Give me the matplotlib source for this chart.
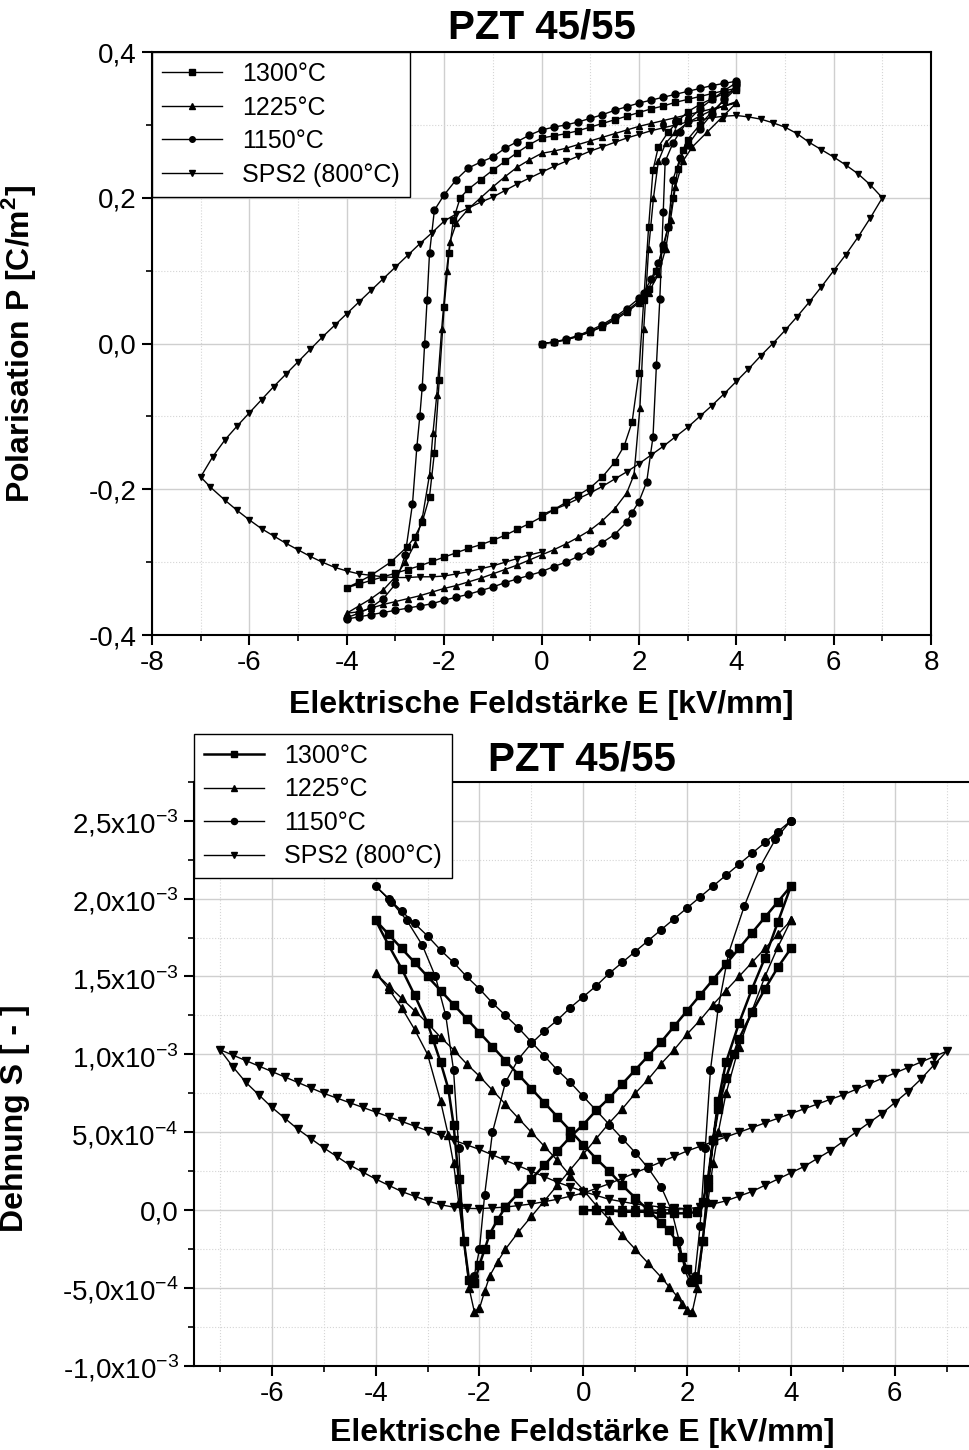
import numpy as np
import matplotlib.pyplot as plt
from matplotlib.ticker import MultipleLocator, FuncFormatter

plt.rcParams['font.family'] = ['Liberation Sans', 'DejaVu Sans']
plt.rcParams['mathtext.fontset'] = 'custom'
plt.rcParams['mathtext.rm'] = 'Liberation Sans'
plt.rcParams['mathtext.bf'] = 'Liberation Sans:bold'
plt.rcParams['axes.unicode_minus'] = False

labels = ['1300°C', '1225°C', '1150°C', 'SPS2 (800°C)']
markers = ['s', '^', 'o', 'v']

# P(E) Hysterese, Punkte (E [kV/mm], P [C/m^2])
pol_1300 = [
    (0, 0), (0.25, 0.002), (0.5, 0.005), (0.75, 0.01), (1, 0.016), (1.25, 0.024), (1.5, 0.034),
    (1.75, 0.045), (2, 0.058), (2.2, 0.075), (2.35, 0.1), (2.5, 0.13), (2.6, 0.16), (2.7, 0.2),
    (2.8, 0.24), (2.9, 0.265), (3, 0.28), (3.25, 0.3), (3.5, 0.318), (3.75, 0.334), (4, 0.35),
    (3.75, 0.347), (3.5, 0.343), (3.25, 0.339), (3, 0.335), (2.75, 0.331), (2.5, 0.326), (2.25, 0.322),
    (2, 0.317), (1.75, 0.312), (1.5, 0.307), (1.25, 0.302), (1, 0.297), (0.75, 0.292), (0.5, 0.288),
    (0.25, 0.285), (0, 0.282), (-0.25, 0.273), (-0.5, 0.262), (-0.75, 0.25), (-1, 0.238), (-1.25, 0.225),
    (-1.5, 0.212), (-1.67, 0.2), (-1.81, 0.17), (-1.9, 0.124), (-2.0, 0.05), (-2.1, -0.05), (-2.2, -0.15),
    (-2.3, -0.21), (-2.45, -0.245), (-2.6, -0.265), (-2.76, -0.279), (-3.1, -0.3), (-3.5, -0.318),
    (-3.75, -0.327), (-4, -0.335),
    (-3.75, -0.33), (-3.5, -0.325), (-3.25, -0.32), (-3, -0.315), (-2.75, -0.31), (-2.5, -0.305),
    (-2.25, -0.299), (-2, -0.293), (-1.75, -0.287), (-1.5, -0.281), (-1.25, -0.276), (-1, -0.27),
    (-0.75, -0.263), (-0.5, -0.255), (-0.25, -0.247), (0, -0.238), (0.25, -0.228), (0.5, -0.218),
    (0.75, -0.208), (1, -0.198), (1.25, -0.183), (1.5, -0.163), (1.7, -0.14), (1.86, -0.108),
    (2.0, -0.04), (2.1, 0.06), (2.2, 0.16), (2.29, 0.238), (2.4, 0.27), (2.6, 0.29), (2.8, 0.305),
    (3, 0.318), (3.25, 0.328), (3.5, 0.336), (3.75, 0.343), (4, 0.348),
]
pol_1225 = [
    (0, 0), (0.25, 0.002), (0.5, 0.005), (0.75, 0.01), (1, 0.016), (1.25, 0.023), (1.5, 0.032),
    (1.75, 0.043), (2, 0.056), (2.2, 0.07), (2.4, 0.095), (2.55, 0.13), (2.65, 0.17), (2.75, 0.215),
    (2.9, 0.25), (3.1, 0.27), (3.4, 0.29), (3.7, 0.31), (4, 0.33),
    (3.75, 0.326), (3.5, 0.322), (3.25, 0.318), (3, 0.314), (2.75, 0.31), (2.5, 0.306), (2.25, 0.302),
    (2, 0.298), (1.75, 0.293), (1.5, 0.288), (1.25, 0.283), (1, 0.278), (0.75, 0.273), (0.5, 0.268),
    (0.25, 0.264), (0, 0.261), (-0.25, 0.252), (-0.5, 0.242), (-0.75, 0.229), (-1, 0.215), (-1.25, 0.2),
    (-1.5, 0.185), (-1.75, 0.165), (-1.88, 0.14), (-1.95, 0.1), (-2.05, 0.02), (-2.15, -0.07),
    (-2.23, -0.123), (-2.3, -0.18), (-2.45, -0.24), (-2.6, -0.275), (-2.8, -0.3), (-3, -0.32),
    (-3.25, -0.338), (-3.5, -0.35), (-3.75, -0.36), (-4, -0.37),
    (-3.75, -0.368), (-3.5, -0.363), (-3.25, -0.358), (-3, -0.354), (-2.75, -0.35), (-2.5, -0.346),
    (-2.25, -0.341), (-2, -0.336), (-1.75, -0.332), (-1.5, -0.327), (-1.25, -0.322), (-1, -0.316),
    (-0.75, -0.31), (-0.5, -0.304), (-0.25, -0.297), (0, -0.29), (0.25, -0.283), (0.5, -0.275),
    (0.75, -0.266), (1, -0.256), (1.25, -0.243), (1.5, -0.227), (1.75, -0.205), (1.9, -0.18),
    (2.02, -0.089), (2.1, 0.02), (2.2, 0.13), (2.3, 0.2), (2.4, 0.25), (2.55, 0.275), (2.75, 0.29),
    (3, 0.303), (3.25, 0.312), (3.5, 0.32), (3.75, 0.326), (4, 0.332),
]
pol_1150 = [
    (0, 0), (0.25, 0.002), (0.5, 0.006), (0.75, 0.011), (1, 0.018), (1.25, 0.026), (1.5, 0.036),
    (1.75, 0.048), (2, 0.062), (2.1, 0.07), (2.25, 0.088), (2.4, 0.11), (2.5, 0.135), (2.6, 0.16),
    (2.7, 0.225), (2.85, 0.255), (3, 0.272), (3.25, 0.295), (3.5, 0.315), (3.75, 0.335), (4, 0.355),
    (4, 0.36), (3.75, 0.357), (3.5, 0.354), (3.25, 0.35), (3, 0.346), (2.75, 0.342), (2.5, 0.338),
    (2.25, 0.334), (2, 0.33), (1.75, 0.325), (1.5, 0.32), (1.25, 0.314), (1, 0.309), (0.75, 0.304),
    (0.5, 0.3), (0.25, 0.297), (0, 0.293), (-0.25, 0.286), (-0.5, 0.277), (-0.75, 0.268), (-1, 0.256),
    (-1.25, 0.249), (-1.5, 0.241), (-1.75, 0.225), (-2, 0.204), (-2.2, 0.183), (-2.3, 0.124),
    (-2.35, 0.06), (-2.4, 0.0), (-2.45, -0.06), (-2.5, -0.1), (-2.56, -0.142), (-2.65, -0.22),
    (-2.8, -0.29), (-3, -0.33), (-3.25, -0.35), (-3.5, -0.362), (-3.75, -0.37), (-4, -0.376),
    (-4, -0.378), (-3.75, -0.375), (-3.5, -0.372), (-3.25, -0.369), (-3, -0.366), (-2.75, -0.363),
    (-2.5, -0.36), (-2.25, -0.357), (-2, -0.352), (-1.75, -0.348), (-1.5, -0.344), (-1.25, -0.339),
    (-1, -0.334), (-0.75, -0.328), (-0.5, -0.323), (-0.25, -0.318), (0, -0.313), (0.25, -0.306),
    (0.5, -0.3), (0.75, -0.292), (1, -0.284), (1.25, -0.273), (1.5, -0.262), (1.75, -0.245),
    (1.85, -0.233), (2, -0.217), (2.16, -0.19), (2.29, -0.128), (2.36, -0.03), (2.43, 0.061),
    (2.5, 0.18), (2.54, 0.25), (2.7, 0.275), (2.84, 0.29), (3, 0.305), (3.25, 0.322), (3.5, 0.335),
    (3.75, 0.347), (4, 0.358),
]
pol_sps2 = [
    (0, -0.235), (0.25, -0.228), (0.5, -0.221), (0.75, -0.213), (1, -0.205), (1.25, -0.196),
    (1.5, -0.186), (1.75, -0.176), (2, -0.165), (2.25, -0.153), (2.5, -0.141), (2.75, -0.128),
    (3, -0.115), (3.25, -0.1), (3.5, -0.085), (3.75, -0.069), (4, -0.052), (4.25, -0.035),
    (4.5, -0.017), (4.75, 0.0), (5, 0.018), (5.25, 0.037), (5.5, 0.057), (5.75, 0.078), (6, 0.1),
    (6.25, 0.122), (6.5, 0.146), (6.75, 0.172), (7, 0.2),
    (6.75, 0.218), (6.5, 0.233), (6.25, 0.245), (6, 0.256), (5.75, 0.266), (5.5, 0.276), (5.25, 0.288),
    (5, 0.297), (4.75, 0.303), (4.5, 0.308), (4.25, 0.311), (4, 0.313), (3.75, 0.312), (3.5, 0.31),
    (3.25, 0.307), (3, 0.304), (2.75, 0.3), (2.5, 0.296), (2.25, 0.292), (2, 0.287), (1.75, 0.282),
    (1.5, 0.276), (1.25, 0.27), (1, 0.264), (0.75, 0.257), (0.5, 0.25), (0.25, 0.243), (0, 0.235),
    (-0.25, 0.227), (-0.5, 0.219), (-0.75, 0.21), (-1, 0.201), (-1.25, 0.194), (-1.5, 0.186),
    (-1.75, 0.178), (-2, 0.168), (-2.25, 0.152), (-2.5, 0.137), (-2.75, 0.121), (-3, 0.105),
    (-3.25, 0.089), (-3.5, 0.073), (-3.75, 0.057), (-4, 0.041), (-4.25, 0.025), (-4.5, 0.009),
    (-4.75, -0.008), (-5, -0.025), (-5.25, -0.042), (-5.5, -0.059), (-5.75, -0.077), (-6, -0.095),
    (-6.25, -0.113), (-6.5, -0.132), (-6.75, -0.155), (-7, -0.183),
    (-6.8, -0.197), (-6.5, -0.215), (-6.25, -0.229), (-6, -0.242), (-5.75, -0.254), (-5.5, -0.264),
    (-5.25, -0.274), (-5, -0.283), (-4.75, -0.292), (-4.5, -0.3), (-4.25, -0.307), (-4, -0.312),
    (-3.75, -0.316), (-3.5, -0.318), (-3.25, -0.32), (-3, -0.321), (-2.75, -0.321), (-2.5, -0.32),
    (-2.25, -0.32), (-2, -0.319), (-1.75, -0.316), (-1.5, -0.313), (-1.25, -0.309), (-1, -0.305),
    (-0.75, -0.3), (-0.5, -0.295), (-0.25, -0.29), (0, -0.286),
]

# S(E) Schmetterlingskurven, Punkte (E [kV/mm], S [1e-3])
str_1300 = [
    (0, 0), (0.25, 0), (0.5, 0), (0.75, -0.01), (1, -0.01), (1.25, -0.01), (1.5, -0.02), (1.75, -0.02),
    (2, -0.02), (2.2, -0.01), (2.3, 0.05), (2.4, 0.2), (2.5, 0.45), (2.6, 0.7), (2.75, 0.95), (3, 1.2),
    (3.25, 1.42), (3.5, 1.62), (3.75, 1.85), (4, 2.08),
    (3.75, 1.98), (3.5, 1.88), (3.25, 1.78), (3, 1.68), (2.75, 1.58), (2.5, 1.48), (2.25, 1.38),
    (2, 1.28), (1.75, 1.18), (1.5, 1.08), (1.25, 0.99), (1, 0.9), (0.75, 0.81), (0.5, 0.72),
    (0.25, 0.64), (0, 0.55), (-0.25, 0.47), (-0.5, 0.38), (-0.75, 0.29), (-1, 0.2), (-1.25, 0.11),
    (-1.5, 0.02), (-1.65, -0.06), (-1.8, -0.15), (-1.9, -0.25), (-2, -0.35), (-2.1, -0.47),
    (-2.2, -0.45), (-2.3, -0.2), (-2.4, 0.2), (-2.5, 0.55), (-2.6, 0.78), (-2.75, 0.95), (-2.9, 1.1),
    (-3, 1.2), (-3.25, 1.38), (-3.5, 1.55), (-3.75, 1.7), (-4, 1.86),
    (-3.75, 1.77), (-3.5, 1.68), (-3.25, 1.59), (-3, 1.5), (-2.75, 1.41), (-2.5, 1.32), (-2.25, 1.23),
    (-2, 1.14), (-1.75, 1.05), (-1.5, 0.96), (-1.25, 0.87), (-1, 0.78), (-0.75, 0.69), (-0.5, 0.6),
    (-0.25, 0.51), (0, 0.42), (0.25, 0.33), (0.5, 0.25), (0.75, 0.16), (1, 0.08), (1.25, 0.0),
    (1.5, -0.08), (1.65, -0.13), (1.8, -0.2), (1.9, -0.3), (2, -0.38), (2.1, -0.46), (2.2, -0.44),
    (2.3, -0.2), (2.4, 0.15), (2.5, 0.45), (2.6, 0.65), (2.75, 0.85), (2.9, 1.0), (3, 1.1),
    (3.25, 1.27), (3.5, 1.42), (3.75, 1.56), (4, 1.68),
]
str_1225 = [
    (4, 1.86), (3.75, 1.77), (3.5, 1.68), (3.25, 1.59), (3, 1.5), (2.75, 1.41), (2.5, 1.32), (2.25, 1.22),
    (2, 1.13), (1.75, 1.03), (1.5, 0.94), (1.25, 0.84), (1, 0.75), (0.75, 0.65), (0.5, 0.56), (0.25, 0.46),
    (0, 0.36), (-0.25, 0.26), (-0.5, 0.16), (-0.75, 0.06), (-1, -0.04), (-1.25, -0.14), (-1.5, -0.25),
    (-1.65, -0.33), (-1.8, -0.42), (-1.9, -0.52), (-2, -0.63), (-2.1, -0.65), (-2.2, -0.5), (-2.3, -0.2),
    (-2.4, 0.05), (-2.5, 0.3), (-2.6, 0.48), (-2.75, 0.7), (-3, 1.0), (-3.25, 1.16), (-3.5, 1.3),
    (-3.75, 1.42), (-4, 1.52),
    (-3.75, 1.44), (-3.5, 1.36), (-3.25, 1.28), (-3, 1.2), (-2.75, 1.11), (-2.5, 1.03), (-2.25, 0.94),
    (-2, 0.86), (-1.75, 0.77), (-1.5, 0.68), (-1.25, 0.59), (-1, 0.5), (-0.75, 0.41), (-0.5, 0.32),
    (-0.25, 0.22), (0, 0.13), (0.25, 0.03), (0.5, -0.06), (0.75, -0.16), (1, -0.25), (1.25, -0.34),
    (1.5, -0.43), (1.65, -0.49), (1.8, -0.55), (1.9, -0.6), (2, -0.64), (2.1, -0.65), (2.2, -0.5),
    (2.3, -0.2), (2.4, 0.05), (2.5, 0.3), (2.6, 0.5), (2.75, 0.75), (3, 1.05), (3.25, 1.28),
    (3.5, 1.5), (3.75, 1.69), (4, 1.86),
]
str_1150 = [
    (4, 2.5), (3.75, 2.43), (3.5, 2.36), (3.25, 2.29), (3, 2.22), (2.75, 2.15), (2.5, 2.08), (2.25, 2.01),
    (2, 1.94), (1.75, 1.87), (1.5, 1.8), (1.25, 1.73), (1, 1.66), (0.75, 1.59), (0.5, 1.52), (0.25, 1.44),
    (0, 1.37), (-0.25, 1.3), (-0.5, 1.22), (-0.75, 1.15), (-1, 1.07), (-1.25, 0.97), (-1.5, 0.82),
    (-1.75, 0.5), (-1.9, 0.1), (-2, -0.25), (-2.1, -0.42), (-2.2, -0.45), (-2.3, -0.2), (-2.4, 0.4),
    (-2.5, 0.9), (-2.65, 1.25), (-2.85, 1.5), (-3.1, 1.7), (-3.4, 1.86), (-3.7, 1.98), (-4, 2.08),
    (-3.75, 2.0), (-3.5, 1.92), (-3.25, 1.84), (-3, 1.76), (-2.75, 1.67), (-2.5, 1.59), (-2.25, 1.5),
    (-2, 1.42), (-1.75, 1.33), (-1.5, 1.25), (-1.25, 1.17), (-1, 1.08), (-0.75, 0.99), (-0.5, 0.9),
    (-0.25, 0.82), (0, 0.73), (0.25, 0.64), (0.5, 0.55), (0.75, 0.46), (1, 0.37), (1.25, 0.27),
    (1.5, 0.15), (1.7, 0.0), (1.85, -0.2), (1.95, -0.38), (2.05, -0.46), (2.15, -0.42), (2.25, -0.1),
    (2.35, 0.4), (2.45, 0.9), (2.6, 1.3), (2.8, 1.65), (3.1, 1.95), (3.4, 2.2), (3.7, 2.38), (4, 2.5),
]
str_sps2 = [
    (0, 0), (0.25, 0), (0.5, 0), (0.75, 0), (1, 0), (1.25, 0), (1.5, 0), (1.75, 0.005), (2, 0.01),
    (2.25, 0.02), (2.5, 0.04), (2.75, 0.06), (3, 0.09), (3.25, 0.12), (3.5, 0.16), (3.75, 0.2),
    (4, 0.24), (4.25, 0.28), (4.5, 0.33), (4.75, 0.38), (5, 0.44), (5.25, 0.5), (5.5, 0.56),
    (5.75, 0.62), (6, 0.69), (6.25, 0.76), (6.5, 0.84), (6.75, 0.93), (7, 1.02),
    (6.75, 0.985), (6.5, 0.95), (6.25, 0.915), (6, 0.88), (5.75, 0.845), (5.5, 0.81), (5.25, 0.775),
    (5, 0.74), (4.75, 0.71), (4.5, 0.68), (4.25, 0.65), (4, 0.62), (3.75, 0.59), (3.5, 0.56),
    (3.25, 0.53), (3, 0.5), (2.75, 0.47), (2.5, 0.44), (2.25, 0.41), (2, 0.38), (1.75, 0.345),
    (1.5, 0.31), (1.25, 0.275), (1, 0.24), (0.75, 0.205), (0.5, 0.17), (0.25, 0.14), (0, 0.11),
    (-0.25, 0.09), (-0.5, 0.07), (-0.75, 0.055), (-1, 0.04), (-1.25, 0.03), (-1.5, 0.02),
    (-1.75, 0.015), (-2, 0.01), (-2.25, 0.012), (-2.5, 0.02), (-2.75, 0.035), (-3, 0.06),
    (-3.25, 0.09), (-3.5, 0.12), (-3.75, 0.16), (-4, 0.2), (-4.25, 0.245), (-4.5, 0.29),
    (-4.75, 0.345), (-5, 0.4), (-5.25, 0.46), (-5.5, 0.52), (-5.75, 0.59), (-6, 0.66), (-6.25, 0.74),
    (-6.5, 0.82), (-6.75, 0.92), (-7, 1.03),
    (-6.75, 0.995), (-6.5, 0.96), (-6.25, 0.925), (-6, 0.89), (-5.75, 0.855), (-5.5, 0.82),
    (-5.25, 0.785), (-5, 0.75), (-4.75, 0.72), (-4.5, 0.69), (-4.25, 0.66), (-4, 0.63), (-3.75, 0.6),
    (-3.5, 0.57), (-3.25, 0.54), (-3, 0.51), (-2.75, 0.48), (-2.5, 0.45), (-2.25, 0.42), (-2, 0.39),
    (-1.75, 0.355), (-1.5, 0.32), (-1.25, 0.285), (-1, 0.25), (-0.75, 0.215), (-0.5, 0.18),
    (-0.25, 0.15), (0, 0.12), (0.25, 0.095), (0.5, 0.07), (0.75, 0.055), (1, 0.04), (1.25, 0.03),
    (1.5, 0.02), (1.75, 0.015), (2, 0.01),
]

pol_data = [pol_1300, pol_1225, pol_1150, pol_sps2]
str_data = [str_1300, str_1225, str_1150, str_sps2]


def komma(v, pos):
    return f'{v:.1f}'.replace('.', ',')


def sci_komma(v, pos):
    if abs(v) < 1e-12:
        return '0,0'
    e = int(np.floor(np.log10(abs(v))))
    m = v / 10 ** e
    return f'{m:.1f}'.replace('.', ',') + 'x10$^{' + str(e) + '}$'


def style_axes(ax):
    ax.tick_params(which='major', direction='out', length=7, width=1.5, labelsize=20, pad=4)
    ax.tick_params(which='minor', direction='out', length=4, width=1.2)
    ax.grid(which='major', ls='-', color='#cfcfcf', lw=1.0)
    ax.grid(which='minor', ls=':', color='#d5d5d5', lw=0.8)
    ax.set_axisbelow(True)
    for s in ax.spines.values():
        s.set_linewidth(1.5)


def add_legend(ax, anchor):
    leg = ax.legend(loc='upper left', bbox_to_anchor=anchor, borderaxespad=0, fontsize=18,
                    frameon=True, fancybox=False, edgecolor='black', framealpha=1,
                    handlelength=2.4, handletextpad=0.8, labelspacing=0.38, borderpad=0.4,
                    markerscale=0.8)
    leg.get_frame().set_linewidth(1.0)
    leg.set_zorder(10)
    return leg


fig = plt.figure(figsize=(9.7, 14.5), dpi=100)

# Polarisation
ax1 = fig.add_axes([0.1567, 0.562, 0.8031, 0.4021])
for d, lab, mk in zip(pol_data, labels, markers):
    e, p = np.array(d).T
    ax1.plot(e, p, color='black', lw=1.0, marker=mk, ms=5, label=lab)
ax1.set_xlim(-8, 8)
ax1.set_ylim(-0.4, 0.4)
ax1.xaxis.set_major_locator(MultipleLocator(2))
ax1.xaxis.set_minor_locator(MultipleLocator(1))
ax1.yaxis.set_major_locator(MultipleLocator(0.2))
ax1.yaxis.set_minor_locator(MultipleLocator(0.1))
ax1.yaxis.set_major_formatter(FuncFormatter(komma))
style_axes(ax1)
ax1.set_title('PZT 45/55', fontsize=29, fontweight='bold', pad=10)
ax1.set_xlabel('Elektrische Feldstärke E [kV/mm]', fontsize=23, fontweight='bold', labelpad=10)
ax1.set_ylabel(r'Polarisation P [C/m$^\mathbf{2}$]', fontsize=23, fontweight='bold')
ax1.yaxis.set_label_coords(-0.146, 0.5)
add_legend(ax1, (0, 1))

# Dehnung
ax2 = fig.add_axes([0.2, 0.0579, 0.8, 0.403])
for d, lab, mk in zip(str_data, labels, markers):
    e, s = np.array(d).T
    lw = 1.8 if lab == '1300°C' else 1.0
    ax2.plot(e, s * 1e-3, color='black', lw=lw, marker=mk, ms=5.5, label=lab)
ax2.set_xlim(-7.5, 7.45)
ax2.set_ylim(-1e-3, 2.75e-3)
ax2.xaxis.set_major_locator(MultipleLocator(2))
ax2.xaxis.set_minor_locator(MultipleLocator(1))
ax2.yaxis.set_major_locator(MultipleLocator(5e-4))
ax2.yaxis.set_minor_locator(MultipleLocator(2.5e-4))
ax2.yaxis.set_major_formatter(FuncFormatter(sci_komma))
style_axes(ax2)
ax2.spines['right'].set_visible(False)
ax2.set_title('PZT 45/55', fontsize=29, fontweight='bold', pad=8)
ax2.set_xlabel('Elektrische Feldstärke E [kV/mm]', fontsize=23, fontweight='bold', labelpad=8)
ax2.set_ylabel('Dehnung S [ - ]', fontsize=23, fontweight='bold')
ax2.yaxis.set_label_coords(-0.211, 0.424)
add_legend(ax2, (0, 1.082))

fig.savefig('out.png', dpi=100)
